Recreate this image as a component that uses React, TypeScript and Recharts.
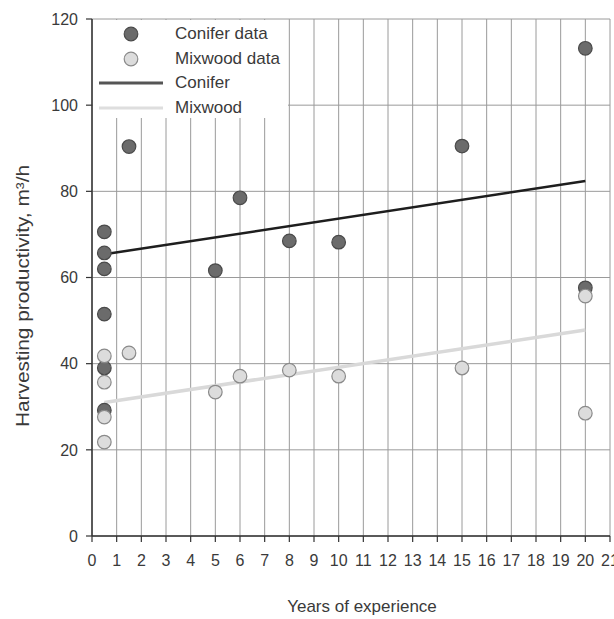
import React from 'react';
import {
  ComposedChart,
  Scatter,
  Line,
  XAxis,
  YAxis,
  CartesianGrid,
  Legend,
} from 'recharts';

const coniferYears = [0.5, 0.5, 0.5, 0.5, 0.5, 0.5, 1.5, 5, 6, 8, 10, 15, 20, 20];
const coniferProd = [70.6, 65.7, 62.0, 51.5, 39.0, 29.2, 90.4, 61.6, 78.5, 68.5, 68.2, 90.5, 113.2, 57.6];

const mixwoodYears = [0.5, 0.5, 0.5, 0.5, 1.5, 5, 6, 8, 10, 15, 20, 20];
const mixwoodProd = [41.8, 35.7, 27.6, 21.8, 42.5, 33.4, 37.1, 38.5, 37.1, 39.0, 55.7, 28.5];

// Fitted lines (end points)
const fitYears = [0.5, 20];
const coniferFit = [65.4, 82.4];
const mixwoodFit = [31.0, 47.8];

const xTicks = Array.from({ length: 22 }, (_, i) => i);
const yTicks = [0, 20, 40, 60, 80, 100, 120];

const legendItems = [
  { name: 'Conifer data', kind: 'dot', fill: '#6b6b6b', stroke: '#4a4a4a' },
  { name: 'Mixwood data', kind: 'dot', fill: '#dcdcdc', stroke: '#8a8a8a' },
  { name: 'Conifer', kind: 'line', stroke: '#555555' },
  { name: 'Mixwood', kind: 'line', stroke: '#dedede' },
];

const coniferData = coniferYears.map((x, i) => ({ x, y: coniferProd[i] }));
const mixwoodData = mixwoodYears.map((x, i) => ({ x, y: mixwoodProd[i] }));
const coniferFitData = fitYears.map((x, i) => ({ x, y: coniferFit[i] }));
const mixwoodFitData = fitYears.map((x, i) => ({ x, y: mixwoodFit[i] }));

const FONT = '"Liberation Sans Narrow", "Liberation Sans", Arial, sans-serif';
const TEXT = '#3a3a3a';
const GRID = '#9a9a9a';

const dotShape = (fill: string, stroke: string) => (props: any) => (
  <circle cx={props.cx} cy={props.cy} r={6.8} fill={fill} stroke={stroke} strokeWidth={1.2} />
);

const LegendBox = () => (
  <div
    style={{
      background: '#fff',
      width: 195,
      height: 98,
      fontFamily: FONT,
      fontSize: 17,
      color: TEXT,
      paddingTop: 2,
      boxSizing: 'border-box',
    }}
  >
    {legendItems.map((item) => (
      <div key={item.name} style={{ display: 'flex', alignItems: 'center', height: 24.5 }}>
        <svg width={76} height={16}>
          {item.kind === 'dot' ? (
            <circle cx={38} cy={8} r={6.8} fill={item.fill} stroke={item.stroke} strokeWidth={1.2} />
          ) : (
            <line x1={6} y1={8} x2={70} y2={8} stroke={item.stroke} strokeWidth={3} />
          )}
        </svg>
        <span style={{ marginLeft: 6, lineHeight: '20px' }}>{item.name}</span>
      </div>
    ))}
  </div>
);

const App: React.FC = () => {
  return (
    <div style={{ position: 'absolute', left: 0, top: 0, background: '#fff' }}>
      <ComposedChart
        width={614}
        height={619}
        margin={{ top: 19, right: 4, left: 0, bottom: 0 }}
      >
        <CartesianGrid stroke={GRID} strokeWidth={1} horizontalValues={yTicks} verticalValues={xTicks} />
        <XAxis
          type="number"
          dataKey="x"
          domain={[0, 21]}
          ticks={xTicks}
          interval={0}
          height={83}
          tickSize={6}
          tickMargin={13}
          axisLine={{ stroke: '#333', strokeWidth: 1.5 }}
          tickLine={{ stroke: '#333', strokeWidth: 1.2 }}
          tick={{ fill: TEXT, fontSize: 16, fontFamily: FONT }}
          label={{
            content: () => (
              <text x={362} y={612} textAnchor="middle" fill={TEXT} fontSize={17} fontFamily={FONT}>
                Years of experience
              </text>
            ),
          }}
        />
        <YAxis
          type="number"
          dataKey="y"
          domain={[0, 120]}
          ticks={yTicks}
          interval={0}
          width={92}
          tickSize={6}
          tickMargin={8}
          axisLine={{ stroke: '#333', strokeWidth: 1.5 }}
          tickLine={{ stroke: '#333', strokeWidth: 1.2 }}
          tick={{ fill: TEXT, fontSize: 16, fontFamily: FONT }}
          label={{
            content: () => (
              <text
                x={29}
                y={296}
                transform="rotate(-90 29 296)"
                textAnchor="middle"
                fill={TEXT}
                fontSize={18}
                fontFamily={FONT}
                textLength={262}
                lengthAdjust="spacingAndGlyphs"
              >
                Harvesting productivity, m³/h
              </text>
            ),
          }}
        />
        <Legend
          layout="vertical"
          align="center"
          verticalAlign="middle"
          wrapperStyle={{ left: 93, top: 20, width: 195, height: 98 }}
          content={() => <LegendBox />}
        />
        <Line
          data={coniferFitData}
          dataKey="y"
          name="Conifer"
          stroke="#1e1e1e"
          strokeWidth={2.5}
          dot={false}
          activeDot={false}
          isAnimationActive={false}
        />
        <Line
          data={mixwoodFitData}
          dataKey="y"
          name="Mixwood"
          stroke="#d9d9d9"
          strokeWidth={3.5}
          dot={false}
          activeDot={false}
          isAnimationActive={false}
        />
        <Scatter
          data={coniferData}
          dataKey="y"
          name="Conifer data"
          shape={dotShape('#6b6b6b', '#4a4a4a')}
          isAnimationActive={false}
        />
        <Scatter
          data={mixwoodData}
          dataKey="y"
          name="Mixwood data"
          shape={dotShape('#dcdcdc', '#8a8a8a')}
          isAnimationActive={false}
        />
      </ComposedChart>
    </div>
  );
};

export default App;
